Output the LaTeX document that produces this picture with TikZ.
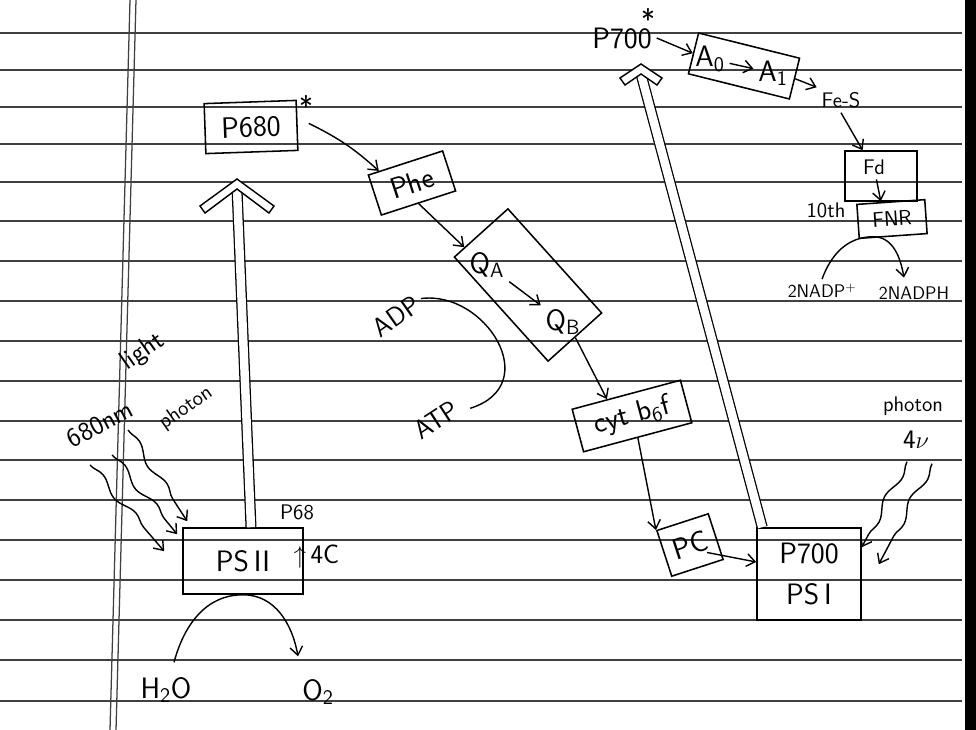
\documentclass[tikz,border=0pt]{standalone}
\usepackage{amsmath}
\usepackage{amssymb}
\usepackage{fontspec}
\usepackage{tikz}
\usetikzlibrary{arrows.meta,calc,decorations.pathmorphing}

\tikzset{
  box/.style={draw, line width=1.1pt, inner sep=0pt},
  hw/.style={font=\sffamily\fontsize{21}{29}\selectfont},
  sm/.style={font=\sffamily\fontsize{15}{17}\selectfont},
  big/.style={font=\sffamily\fontsize{19}{21}\selectfont},
  flow/.style={line width=1pt, -{Straight Barb[length=6pt,width=9pt]}},
  hollow/.style={line width=0.9pt, double, double distance=6pt},
  wave/.style={line width=1pt, decorate, decoration={snake, amplitude=2.5pt, segment length=36pt, post length=8pt}, -{Straight Barb[length=6pt,width=9pt]}},
  rule/.style={line width=0.9pt, black!75}
}
% open chevron head: tip, half width, height
\newcommand{\hollowhead}[3]{%
  \filldraw[fill=white, line width=1pt] ($(#1)+(-#2,#3)$) -- (#1) -- ($(#1)+(#2,#3)$)
    -- ($(#1)+(#2-5,#3+7)$) -- ($(#1)+(0,10)$) -- ($(#1)+(-#2+5,#3+7)$) -- cycle;}

\begin{document}
\begin{tikzpicture}[x=0.025cm, y=-0.025cm]

\fill[white] (0,0) rectangle (976,730);
\useasboundingbox (0,0) rectangle (976,730);
\foreach \y in {33,70,107,144,182,221,261,301,341,381,421,460,500,540,580,620,660,701}
  \draw[rule] (0,\y) -- (962,\y);
\draw[rule] (130,0) -- (110,730);
\draw[rule] (136,0) -- (116,730);
\fill[black] (965,0) rectangle (976,730);

% photosystem II side
\node[box, hw, minimum width=2.3cm, minimum height=1.25cm, rotate=2] (p680) at (251,127) {P680};
\node[hw] (p680s) at (306,106) {*};
\node[box, hw, minimum width=3cm, minimum height=1.65cm] (psii) at (243,561) {PS\,II};
\node[sm] (p68) at (297,512) {P68};
\node[big, anchor=west] (fourc) at (289,557) {$\uparrow$\,4C};
\node[hw] (h2o) at (166,690) {H\textsubscript{2}O};
\node[hw] (o2) at (318,692) {O\textsubscript{2}};
\node[big, rotate=35] (light) at (143,352) {light};
\node[big, rotate=28] (nm) at (100,424) {680nm};
\node[sm, rotate=35] (phot1) at (186,408) {photon};
\coordinate (l1) at (90,465);
\coordinate (l2) at (112,455);
\coordinate (l3) at (128,430);
\coordinate (tip1) at (237,179);

% electron carriers
\node[box, hw, minimum width=1.95cm, minimum height=1.05cm, rotate=18] (phe) at (412,183) {Phe};
\node[box, minimum width=3.5cm, minimum height=1.8cm, rotate=-48] (qbox) at (528,285) {};
\node[hw] (qa) at (487,265) {Q\textsubscript{A}};
\node[hw] (qb) at (563,322) {Q\textsubscript{B}};
\node[big, rotate=35] (adp) at (396,316) {ADP};
\node[big, rotate=33] (atp) at (436,420) {ATP};
\node[box, hw, minimum width=2.8cm, minimum height=1.1cm, rotate=15] (cyt) at (632,416) {cyt b\textsubscript{6}f};
\node[box, hw, minimum width=1.35cm, minimum height=1.2cm, rotate=18] (pc) at (690,545) {PC};

% photosystem I side
\node[box, hw, minimum width=2.6cm, minimum height=2.3cm, align=center] (psi) at (809,574) {P700\\PS\,I};
\node[sm] (phot2) at (913,406) {photon};
\node[big] (nu) at (916,440) {4$\nu$};
\node[hw] (p700) at (622,38) {P700};
\node[hw] (p700s) at (648,19) {*};
\coordinate (tip2) at (641,64);
\node[box, minimum width=2.6cm, minimum height=1.05cm, rotate=-14] (abox) at (744,66) {};
\node[hw] (a0) at (710,59) {A\textsubscript{0}};
\node[hw] (a1) at (773,73) {A\textsubscript{1}};
\node[sm] (fes) at (841,100) {Fe-S};
\node[box, minimum width=1.8cm, minimum height=1.25cm] (fd) at (881,176) {};
\node[sm] (fdt) at (874,167) {Fd};
\node[box, sm, minimum width=1.7cm, minimum height=0.85cm, rotate=4] (fnr) at (892,219) {FNR};
\node[sm] (tenth) at (826,210) {10th};
\node[font=\sffamily\fontsize{13}{15}\selectfont] (nadp) at (822,291) {2NADP\textsuperscript{+}};
\node[font=\sffamily\fontsize{13}{15}\selectfont] (nadph) at (914,293) {2NADPH};

\draw[hollow] ($(psii.north)+(8,0)$) -- ($(tip1)+(0,10)$);
\hollowhead{tip1}{37}{27}
\draw[hollow] ($(psi.north west)+(6,0)$) -- ($(tip2)+(0,10)$);
\hollowhead{tip2}{21}{14}

\draw[flow] ($(p680.east)+(11,-2)$) to[bend left=8] ($(phe.north west)!0.3!(phe.north)$);
\draw[flow] (phe.south) -- ($(qbox.west)!0.6!(qbox.south west)$);
\draw[flow] (qa) -- (qb);
\draw[flow] (qbox.east) -- ($(cyt.north)!0.35!(cyt.north west)$);
\draw[flow] (cyt.south) -- (pc.north west);
\draw[flow] ($(pc.center)!0.5!(pc.south east)$) -- ($(psi.west)+(0,-12)$);
\draw[line width=1pt] (adp.east) .. controls (485,290) and (545,385) .. ($(atp.east)+(10,4)$);

\draw[flow] (p700.east) -- (abox.west);
\draw[flow] (a0) -- (a1);
\draw[flow] (abox.east) -- (fes.north west);
\draw[flow] (fes.south) -- ($(fd.north)!0.5!(fd.north west)$);
\draw[flow] (fdt) -- ($(fnr.north)+(-10,0)$);
\draw[flow] (nadp.north) to[out=70,in=180] ($(fnr.south)+(-20,0)$) to[out=0,in=100] ($(nadph.north)+(-10,-4)$);

\draw[flow] ($(h2o.north)+(8,-10)$) to[out=75,in=180] (psii.south) to[out=0,in=100] ($(o2.north)+(-20,-18)$);
\draw[wave] (l1) -- ($(psii.north west)+(-18,24)$);
\draw[wave] (l2) -- ($(psii.north west)+(-5,7)$);
\draw[wave] (l3) -- ($(psii.north west)+(5,-6)$);
\draw[wave] ($(nu.south)+(-9,8)$) -- ($(psi.north east)+(0,20)$);
\draw[wave] ($(nu.south)+(16,10)$) -- ($(psi.north east)+(17,37)$);

\end{tikzpicture}
\end{document}
